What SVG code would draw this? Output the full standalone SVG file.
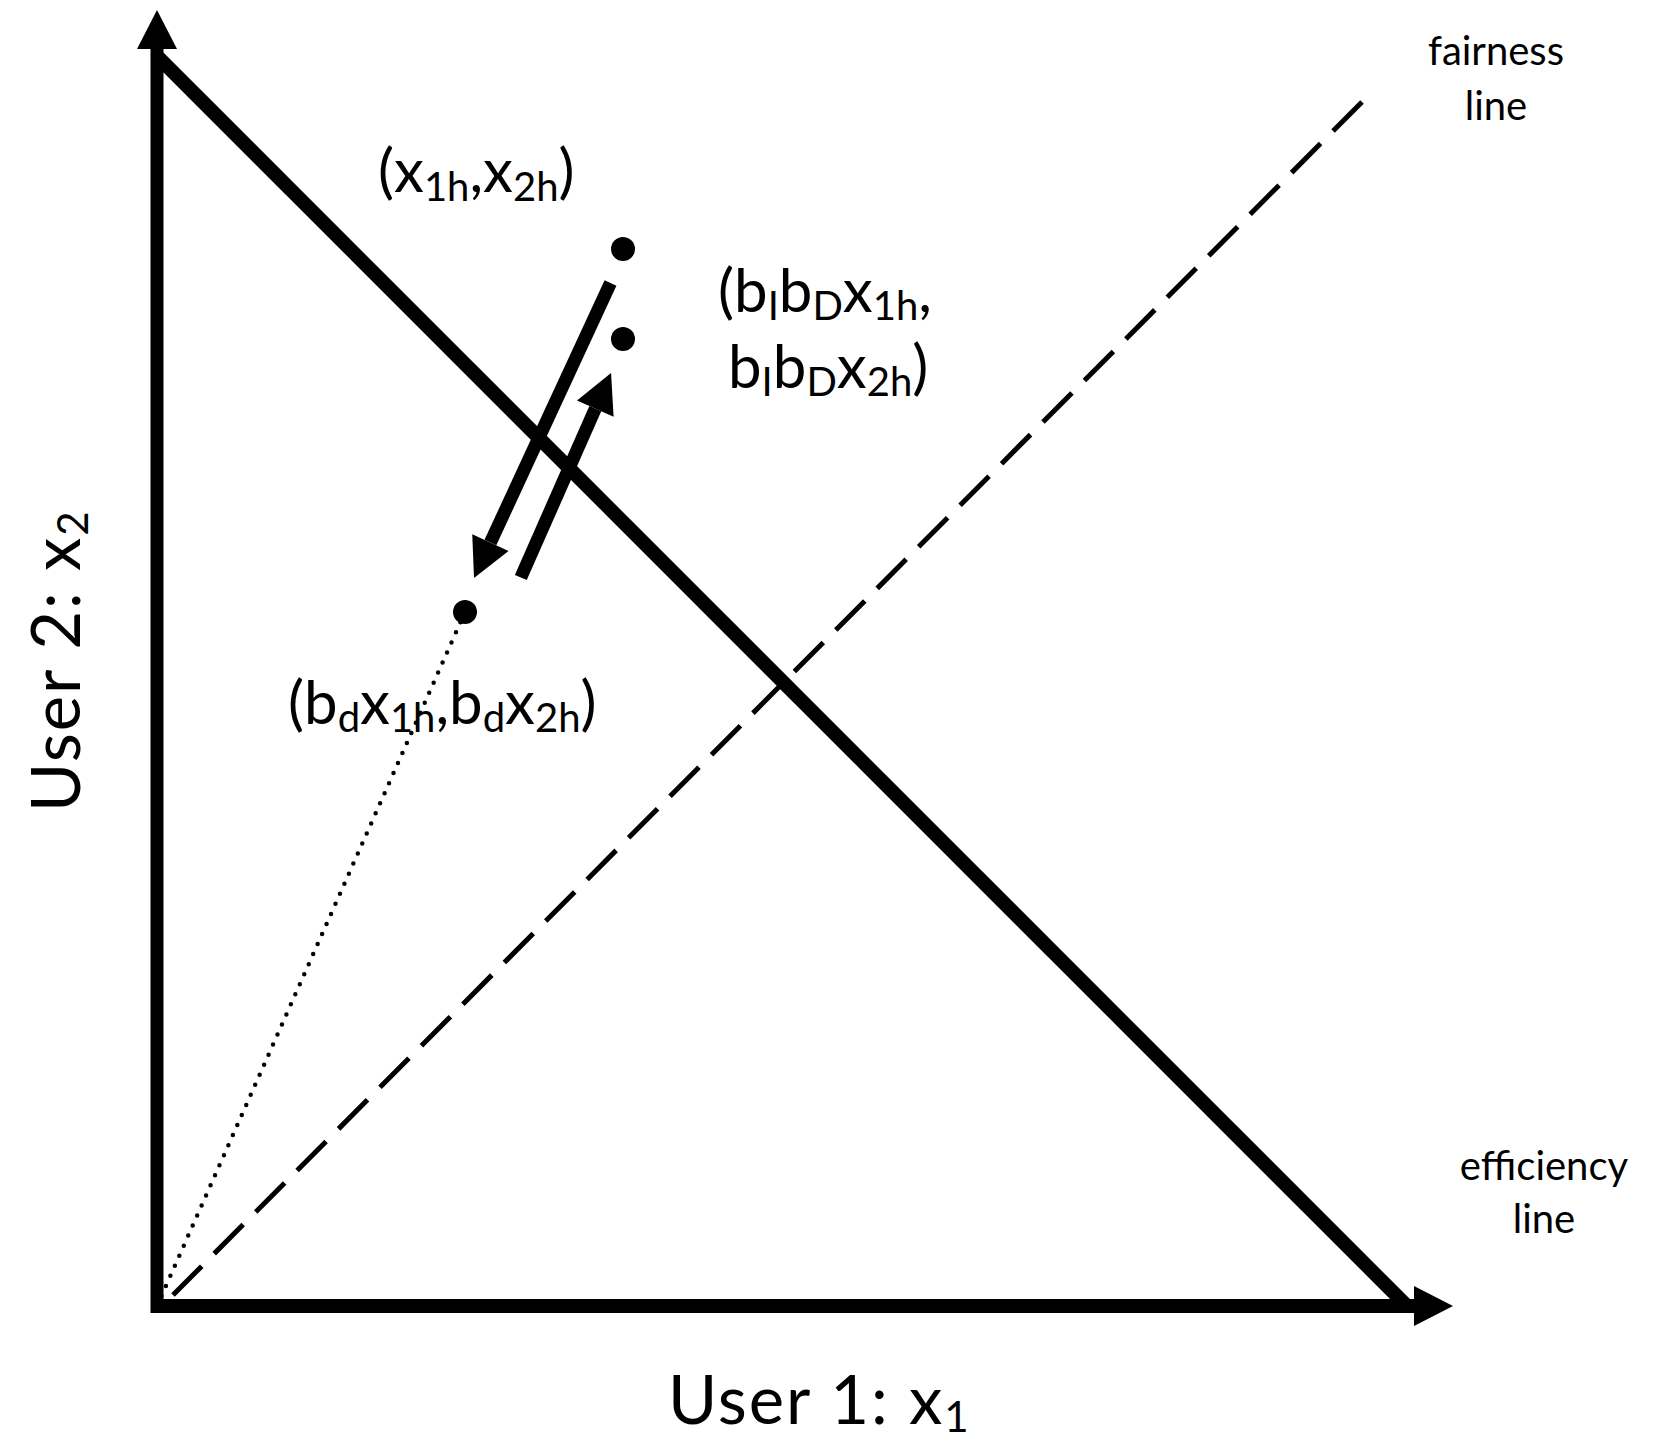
<svg xmlns="http://www.w3.org/2000/svg" width="1660" height="1443" viewBox="0 0 1660 1443">
<style>
text{font-family:Lato,"Open Sans","Liberation Sans",sans-serif;fill:#000}
.lbl{font-size:60px}
.sub{font-size:40px}
.note{font-size:40px;text-anchor:middle}
.axl{font-size:67px;letter-spacing:2px}
.axsub{font-size:42px}
.thick{stroke:#000;fill:none;stroke-linecap:butt}
.dot{fill:#000}
</style>
<defs>
<marker id="head" markerUnits="userSpaceOnUse" markerWidth="40" markerHeight="40" refX="0" refY="20" orient="auto" overflow="visible">
<path d="M0,0 L39,20 L0,40 Z" fill="#000"/>
</marker>
</defs>
<g id="axes">
<line class="thick" x1="157" y1="1313" x2="157" y2="49" stroke-width="13" marker-end="url(#head)"/>
<line class="thick" x1="151" y1="1306" x2="1414" y2="1306" stroke-width="14" marker-end="url(#head)"/>
</g>
<g id="efficiency-line">
<line class="thick" x1="157" y1="56" x2="1407" y2="1306" stroke-width="14"/>
</g>
<g id="fairness-line">
<line x1="1362" y1="102" x2="173" y2="1295" stroke="#000" stroke-width="5" stroke-dasharray="41 17.7"/>
</g>
<g id="connectors">
<line x1="157" y1="1306" x2="465" y2="612" stroke="#000" stroke-width="4.5" stroke-linecap="round" stroke-dasharray="0 11"/>
<line class="thick" x1="610.5" y1="283" x2="490.4" y2="542.6" stroke-width="13" marker-end="url(#head)"/>
<line class="thick" x1="520.8" y1="577.5" x2="595.3" y2="408.7" stroke-width="13" marker-end="url(#head)"/>
</g>
<g id="point-h">
<circle class="dot" cx="623" cy="249" r="12"/>
<text class="lbl" x="378" y="192">(x<tspan class="sub" dy="9">1h</tspan><tspan dy="-9">,x</tspan><tspan class="sub" dy="9">2h</tspan><tspan dy="-9">)</tspan></text>
</g>
<g id="point-bibd">
<circle class="dot" cx="623" cy="339" r="12"/>
<text class="lbl" x="718" y="312">(b<tspan class="sub" dy="8">I</tspan><tspan dy="-8">b</tspan><tspan class="sub" dy="8">D</tspan><tspan dy="-8">x</tspan><tspan class="sub" dy="8">1h</tspan><tspan dy="-8">,</tspan></text>
<text class="lbl" x="728" y="388">b<tspan class="sub" dy="8">I</tspan><tspan dy="-8">b</tspan><tspan class="sub" dy="8">D</tspan><tspan dy="-8">x</tspan><tspan class="sub" dy="8">2h</tspan><tspan dy="-8">)</tspan></text>
</g>
<g id="point-bd">
<circle class="dot" cx="465" cy="612" r="12"/>
<text class="lbl" x="288" y="724">(b<tspan class="sub" dy="8">d</tspan><tspan dy="-8">x</tspan><tspan class="sub" dy="8">1h</tspan><tspan dy="-8">,b</tspan><tspan class="sub" dy="8">d</tspan><tspan dy="-8">x</tspan><tspan class="sub" dy="8">2h</tspan><tspan dy="-8">)</tspan></text>
</g>
<g id="label-fairness">
<text class="note" x="1496" y="65">fairness</text>
<text class="note" x="1496" y="120">line</text>
</g>
<g id="label-efficiency">
<text class="note" x="1544" y="1180">efficiency</text>
<text class="note" x="1544" y="1233">line</text>
</g>
<g id="label-x-axis">
<text class="axl" x="668" y="1424">User 1: x<tspan class="axsub" dy="8">1</tspan></text>
</g>
<g id="label-y-axis">
<text class="axl" transform="translate(80,812) rotate(-90)">User 2: x<tspan class="axsub" dy="8">2</tspan></text>
</g>
</svg>
